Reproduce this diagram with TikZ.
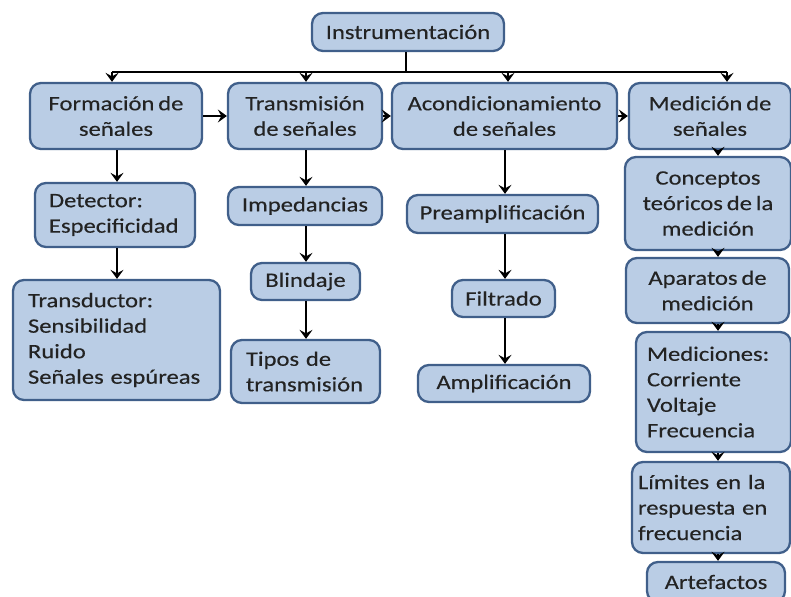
\documentclass[tikz,border=0pt]{standalone}
\usepackage{fontspec}
\setmainfont{Carlito}[FakeStretch=1.2, FakeBold=0.3, WordSpace=0.7]
\usetikzlibrary{arrows.meta}
\definecolor{boxfill}{RGB}{186,205,229}
\definecolor{boxline}{RGB}{64,95,138}
\definecolor{txt}{RGB}{35,35,35}
\tikzset{
  box/.style={draw=boxline, fill=boxfill, line width=2.3pt, rounded corners=11pt,
    inner sep=0pt, font=\fontsize{20.5}{25.5}\selectfont, text=txt, align=center},
  lbox/.style={box, align=left},
  arr/.style={draw=black, line width=2.8pt, -{Stealth[length=9pt,width=13pt,inset=3.5pt]}},
  ln/.style={draw=black, line width=2.8pt}
}
\begin{document}
\begin{tikzpicture}[x=1pt,y=-1pt]
\useasboundingbox (0,0) rectangle (791,596);
% top
\node[box, minimum width=192pt, minimum height=38pt] (inst) at (408,32) {Instrumentación};
% row 1
\node[box, minimum width=172pt, minimum height=66pt] (form) at (116,116) {Formación de\\señales};
\node[box, minimum width=154pt, minimum height=66pt] (trans) at (305,116) {Transmisión\\de señales};
\node[box, minimum width=225pt, minimum height=66pt] (acond) at (504.5,116) {Acondicionamiento\\de señales};
\node[box, minimum width=162pt, minimum height=66pt] (med) at (710,116) {Medición de\\señales};
% column 1
\node[lbox, minimum width=160pt, minimum height=64pt, text width=132pt] (det) at (115,215) {Detector:\\Especificidad};
\node[lbox, minimum width=207pt, minimum height=120pt, text width=177pt] (transd) at (116.5,340) {Transductor:\\Sensibilidad\\Ruido\\Señales espúreas};
% column 2
\node[box, minimum width=154pt, minimum height=38pt] (imp) at (305,206) {Impedancias};
\node[box, minimum width=109pt, minimum height=37pt] (blin) at (305.5,281.5) {Blindaje};
\node[lbox, minimum width=149pt, minimum height=63pt, text width=119pt] (tipos) at (305.5,371.5) {Tipos de\\transmisión};
% column 3
\node[box, minimum width=191pt, minimum height=38pt] (pre) at (502.5,214) {Preamplificación};
\node[box, minimum width=103pt, minimum height=37pt] (filt) at (503.5,298.5) {Filtrado};
\node[box, minimum width=172pt, minimum height=37pt] (ampl) at (504,383.5) {Amplificación};
% column 4
\node[box, minimum width=166pt, minimum height=93pt] (conc) at (708,203.5) {Conceptos\\teóricos de la\\medición};
\node[box, minimum width=163pt, minimum height=65pt] (apar) at (707.5,290.5) {Aparatos de\\medición};
\node[lbox, minimum width=155pt, minimum height=120pt, text width=133pt] (medic) at (713.5,392) {Mediciones:\\Corriente\\Voltaje\\Frecuencia};
\node[lbox, minimum width=158pt, minimum height=91pt, text width=146pt] (lim) at (711,507.5) {Límites en la\\respuesta en\\frecuencia};
\node[box, minimum width=138pt, minimum height=40pt] (arte) at (716,582) {Artefactos};
% bus
\coordinate (bus) at (406,72);
\coordinate (d1) at (112,72);
\coordinate (d2) at (306,72);
\coordinate (d3) at (508,72);
\coordinate (d4) at (727,72);
\draw[ln] (inst.south -| bus) -- (bus);
\draw[ln] (d1) -- (d4);
\draw[arr] (d1) -- (d1 |- form.north);
\draw[arr] (d2) -- (d2 |- trans.north);
\draw[arr] (d3) -- (d3 |- acond.north);
\draw[arr] (d4) -- (d4 |- med.north);
% horizontal
\draw[arr] (form.east) -- (trans.west);
\draw[arr] (trans.east) -- (acond.west);
\draw[arr] (acond.east) -- (med.west);
% column 1
\coordinate (c1) at (117,0);
\draw[arr] (c1 |- form.south) -- (c1 |- det.north);
\draw[arr] (c1 |- det.south) -- (c1 |- transd.north);
% column 2
\coordinate (c2) at (306,0);
\draw[arr] (c2 |- trans.south) -- (c2 |- imp.north);
\draw[arr] (c2 |- imp.south) -- (c2 |- blin.north);
\draw[arr] (c2 |- blin.south) -- (c2 |- tipos.north);
% column 3
\coordinate (c3) at (505,0);
\draw[arr] (c3 |- acond.south) -- (c3 |- pre.north);
\draw[arr] (c3 |- pre.south) -- (c3 |- filt.north);
\draw[arr] (c3 |- filt.south) -- (c3 |- ampl.north);
% column 4
\coordinate (c4) at (718,0);
\draw[arr] (c4 |- med.south) -- (c4 |- conc.north);
\draw[arr] (c4 |- conc.south) -- (c4 |- apar.north);
\draw[arr] (c4 |- apar.south) -- (c4 |- medic.north);
\draw[arr] (c4 |- medic.south) -- (c4 |- lim.north);
\draw[arr] (c4 |- lim.south) -- (c4 |- arte.north);
\end{tikzpicture}
\end{document}
